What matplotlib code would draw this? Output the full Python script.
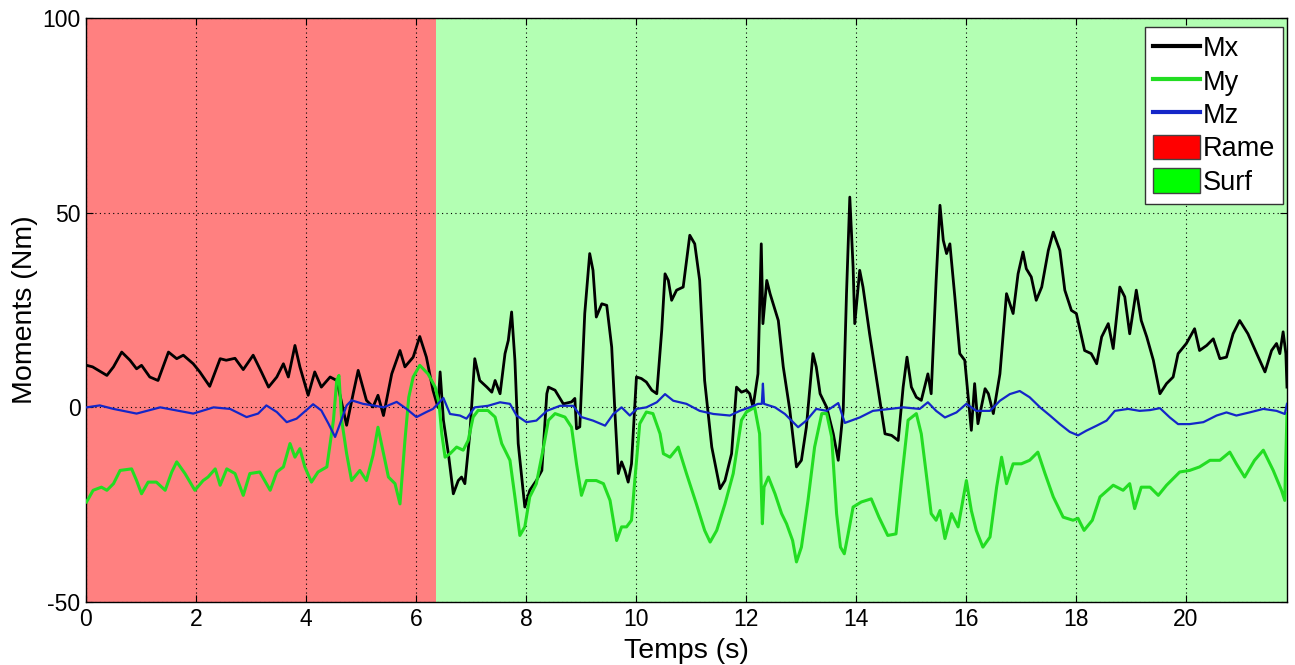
import matplotlib
matplotlib.use("Agg")
import matplotlib.pyplot as plt
from matplotlib.lines import Line2D
from matplotlib.patches import Patch

plt.rcParams['font.family'] = ['Liberation Sans', 'DejaVu Sans']
plt.rcParams['axes.unicode_minus'] = False

# ---- data ----
mx_t = [0.01, 0.12, 0.38, 0.5, 0.65, 0.8, 0.92, 1.01, 1.16, 1.31, 1.5, 1.65, 1.77, 1.95, 2.07, 2.25,
        2.44, 2.55, 2.71, 2.86, 3.04, 3.19, 3.32, 3.47, 3.59, 3.68, 3.8, 3.89, 4.04, 4.16, 4.28, 4.44,
        4.56, 4.74, 4.86, 4.95, 5.1, 5.22, 5.31, 5.41, 5.56, 5.71, 5.8, 5.95, 6.07, 6.19, 6.31, 6.4,
        6.44, 6.5, 6.59, 6.68, 6.77, 6.83, 6.89, 6.98, 7.07, 7.16, 7.29, 7.38, 7.44, 7.53, 7.62, 7.68,
        7.74, 7.8, 7.86, 7.98, 8.07, 8.19, 8.29, 8.38, 8.41, 8.53, 8.68, 8.83, 8.89, 8.92, 8.98, 9.07,
        9.16, 9.22, 9.28, 9.38, 9.47, 9.56, 9.62, 9.68, 9.74, 9.8, 9.86, 9.92, 10.01, 10.1, 10.19,
        10.29, 10.38, 10.47, 10.53, 10.59, 10.65, 10.74, 10.86, 10.98, 11.07, 11.16, 11.25, 11.38,
        11.53, 11.62, 11.74, 11.83, 11.92, 12.01, 12.07, 12.13, 12.22, 12.28, 12.31, 12.38, 12.44,
        12.59, 12.68, 12.8, 12.92, 13.01, 13.1, 13.22, 13.28, 13.35, 13.47, 13.59, 13.68, 13.77,
        13.83, 13.89, 13.95, 13.98, 14.07, 14.13, 14.25, 14.38, 14.53, 14.65, 14.77, 14.86, 14.93,
        15.01, 15.1, 15.19, 15.31, 15.37, 15.46, 15.53, 15.59, 15.65, 15.71, 15.8, 15.89, 15.98,
        16.07, 16.1, 16.16, 16.22, 16.35, 16.41, 16.5, 16.62, 16.74, 16.86, 16.95, 17.04, 17.1,
        17.19, 17.28, 17.38, 17.5, 17.59, 17.71, 17.8, 17.92, 18.01, 18.16, 18.28, 18.38, 18.47,
        18.59, 18.68, 18.8, 18.89, 18.98, 19.1, 19.19, 19.29, 19.41, 19.53, 19.65, 19.77, 19.86,
        20.01, 20.16, 20.25, 20.38, 20.5, 20.62, 20.74, 20.86, 20.98, 21.13, 21.29, 21.44, 21.56,
        21.65, 21.71, 21.77, 21.82, 21.84]
mx_v = [10.8, 10.4, 8.2, 10.4, 14.2, 12.1, 9.9, 10.8, 7.8, 6.9, 14.2, 12.5, 13.4, 11.2, 9.1, 5.4,
        12.5, 12.1, 12.6, 9.7, 13.4, 9.1, 5.2, 7.8, 11.2, 7.8, 15.9, 10.4, 3.1, 9.1, 5.2, 7.8,
        6.9, -4.6, 3.6, 9.5, 1.8, 0.1, 3.1, -2.1, 8.6, 14.6, 10.4, 12.9, 18.2, 12.9, 4.4, 0.0,
        9.1, -3.3, -11.9, -22.2, -18.8, -17.9, -19.6, -6.8, 12.5, 6.9, 5.2, 3.9, 6.9, 3.5, 13.8, 17.2,
        24.5, 12.1, -9.3, -25.6, -21.3, -18.8, -16.2, 3.5, 5.2, 4.4, 0.9, 1.4, 2.3, -5.5, -5.0, 24.1,
        39.5, 35.2, 23.2, 26.6, 26.2, 15.5, -1.6, -17.0, -14.0, -16.2, -19.2, -14.5, 7.8, 7.4, 6.5,
        4.4, 3.5, 19.8, 34.3, 32.6, 27.5, 30.1, 30.9, 44.2, 42.0, 32.6, 6.9, -10.2,
        -20.9, -18.8, -11.9, 5.2, 3.9, 4.4, 3.5, 0.0, 8.6, 42.0, 21.5, 32.6, 29.2,
        22.3, 10.4, -0.8, -15.3, -13.6, -5.1, 13.8, 10.4, 3.5, 0.0, -6.8, -13.6, -0.8,
        29.2, 54.0, 36.0, 21.5, 35.2, 30.9, 18.9, 6.9, -6.8, -7.2, -8.5, 5.2, 12.9,
        5.2, 2.6, 1.8, 8.6, 3.5, 32.6, 51.9, 42.9, 39.5, 42.0, 28.4, 13.8, 12.1,
        -1.6, -5.9, 6.1, -4.2, 4.8, 3.5, -1.6, 8.6, 29.2, 24.1, 34.3, 39.9, 35.6,
        33.5, 27.5, 30.9, 40.3, 45.0, 40.3, 30.1, 24.9, 24.1, 14.6, 13.8, 11.2, 18.1,
        21.5, 15.1, 30.9, 28.4, 18.9, 30.1, 22.3, 18.1, 12.1, 3.5, 6.1, 7.8, 13.8,
        16.4, 20.2, 14.6, 15.9, 17.6, 12.5, 12.9, 18.9, 22.3, 18.9, 13.8, 9.1, 14.6,
        16.4, 13.8, 19.4, 13.8, 5.2]

my_t = [0.01, 0.13, 0.28, 0.38, 0.5, 0.62, 0.83, 0.92, 1.01, 1.13, 1.28, 1.44, 1.56, 1.65, 1.8,
        1.98, 2.13, 2.22, 2.35, 2.44, 2.56, 2.71, 2.86, 2.98, 3.16, 3.35, 3.47, 3.59, 3.71, 3.8,
        3.89, 3.98, 4.1, 4.22, 4.38, 4.5, 4.56, 4.6, 4.65, 4.74, 4.83, 4.98, 5.1, 5.22, 5.31, 5.41,
        5.5, 5.62, 5.71, 5.8, 5.87, 5.95, 6.07, 6.22, 6.35, 6.42, 6.47, 6.53, 6.62, 6.74, 6.86,
        6.95, 7.04, 7.13, 7.31, 7.44, 7.56, 7.71, 7.8, 7.89, 7.98, 8.07, 8.19, 8.31, 8.41, 8.53,
        8.71, 8.83, 8.92, 9.01, 9.1, 9.28, 9.41, 9.53, 9.65, 9.74, 9.83, 9.92, 9.98, 10.07, 10.19,
        10.31, 10.44, 10.5, 10.62, 10.77, 10.92, 11.1, 11.25, 11.35, 11.47, 11.62, 11.77, 11.92,
        12.01, 12.16, 12.25, 12.3, 12.33, 12.41, 12.53, 12.65, 12.74, 12.85, 12.92, 13.01, 13.13,
        13.25, 13.38, 13.47, 13.56, 13.65, 13.72, 13.79, 13.86, 13.95, 14.1, 14.28, 14.42, 14.58,
        14.73, 14.83, 14.95, 15.1, 15.19, 15.28, 15.37, 15.46, 15.53, 15.62, 15.74, 15.86, 16.01,
        16.1, 16.19, 16.31, 16.44, 16.56, 16.65, 16.74, 16.86, 17.01, 17.16, 17.31, 17.44, 17.59,
        17.77, 17.95, 18.04, 18.15, 18.3, 18.44, 18.68, 18.86, 18.98, 19.07, 19.19, 19.35, 19.5,
        19.65, 19.89, 20.07, 20.25, 20.44, 20.62, 20.8, 20.92, 21.07, 21.25, 21.41, 21.59, 21.74,
        21.8, 21.84]
my_v = [-24.3, -21.3, -20.5, -21.3, -19.6, -16.2, -15.8, -18.8, -22.2, -19.2, -19.2, -21.3, -16.6,
        -14.0, -17.0, -21.3, -18.8, -17.9, -15.8, -20.0, -15.8, -17.0, -22.6, -17.0, -16.6, -21.3,
        -16.6, -15.3, -9.3, -12.8, -10.6, -15.3, -19.2, -16.6, -15.3, -3.3, 6.9, 8.2, -3.3, -11.9,
        -18.8, -16.2, -18.8, -12.3, -5.1, -11.9, -17.9, -19.6, -24.8, -8.5, 2.6, 7.8, 10.8, 8.6,
        5.2, 1.0, -6.8, -12.8, -11.9, -10.2, -11.0, -8.5, -2.5, -0.8, -0.8, -2.5, -9.3, -13.6,
        -23.0, -32.9, -30.7, -23.0, -19.6, -11.0, -3.3, -1.6, -2.5, -5.1, -14.5, -22.6, -18.8,
        -18.8, -19.6, -23.9, -34.2, -30.7, -30.7, -29.0, -18.8, -4.2, -1.2, -1.6, -6.8, -11.9,
        -12.8, -10.2, -17.0, -24.8, -31.6, -34.6, -31.6, -24.8, -17.0, -3.3, -1.2, 0.0, -6.8,
        -29.9, -20.5, -17.9, -22.2, -27.3, -29.9, -34.2, -39.7, -35.9, -23.9, -10.2, -1.6, -1.6,
        -7.6, -27.3, -35.9, -37.6, -32.5, -25.6, -24.3, -23.5, -28.2, -32.9, -32.5, -18.8, -3.3,
        -1.6, -6.8, -17.0, -27.3, -29.0, -26.5, -33.7, -27.3, -30.7, -18.8, -26.5, -31.6, -35.9,
        -33.3, -20.5, -12.8, -19.6, -14.5, -14.5, -13.6, -11.5, -17.0, -23.0, -28.2, -29.0, -28.5,
        -31.6, -29.0, -23.0, -20.0, -21.3, -19.6, -26.0, -20.5, -20.5, -22.6, -20.0, -16.6, -16.2,
        -15.3, -13.6, -13.6, -11.5, -14.5, -17.9, -13.6, -11.0, -16.2, -21.3, -23.9, -1.6]

mz_t = [0.01, 0.25, 0.5, 0.92, 1.35, 1.65, 1.95, 2.32, 2.62, 2.92, 3.13, 3.28, 3.47, 3.65, 3.83,
        4.13, 4.28, 4.41, 4.53, 4.62, 4.74, 4.83, 5.04, 5.22, 5.41, 5.65, 5.83, 6.01, 6.19, 6.31,
        6.5, 6.62, 6.8, 6.92, 7.07, 7.31, 7.53, 7.71, 7.83, 8.01, 8.19, 8.38, 8.62, 8.86, 9.01,
        9.22, 9.44, 9.59, 9.74, 9.89, 10.01, 10.19, 10.38, 10.53, 10.68, 10.92, 11.16, 11.41,
        11.71, 11.89, 12.07, 12.22, 12.29, 12.31, 12.33, 12.53, 12.71, 12.95, 13.1, 13.28, 13.47,
        13.68, 13.8, 14.07, 14.31, 14.62, 14.86, 15.16, 15.31, 15.46, 15.62, 15.83, 16.01, 16.19,
        16.44, 16.62, 16.8, 16.98, 17.16, 17.35, 17.53, 17.71, 17.89, 18.04, 18.19, 18.38, 18.56,
        18.71, 18.95, 19.16, 19.35, 19.53, 19.71, 19.86, 20.07, 20.32, 20.56, 20.74, 20.92, 21.16,
        21.41, 21.65, 21.8, 21.84]
mz_v = [0.0, 0.5, -0.4, -1.6, 0.0, -0.8, -1.6, 0.0, -0.4, -2.5, -1.6, 0.5, -1.2, -3.8, -2.9,
        0.8, -0.8, -4.2, -7.6, -4.2, 0.5, 1.8, 0.9, 0.5, 0.0, 1.4, -0.4, -2.5, -1.2, -0.4,
        2.4, -1.7, -2.1, -2.9, 0.0, 0.4, 1.3, 0.9, -2.1, -3.8, -3.4, -0.9, 0.4, 0.4, -2.5,
        -3.4, -4.7, -1.7, 0.0, -2.1, -0.4, 0.0, 1.3, 3.4, 1.7, 0.9, -0.9, -1.7,
        -2.1, -0.9, 0.0, 0.9, 0.9, 6.1, 0.9, 0.0, -1.7, -5.1, -3.4, -0.4, -0.9,
        1.1, -4.0, -2.6, -0.9, -0.4, 0.0, -0.4, 1.3, -0.9, -2.6, -1.3, 0.9, -0.9,
        -0.9, 1.7, 3.4, 4.2, 2.6, 0.0, -2.1, -4.3, -6.3, -7.2, -6.0, -4.7, -3.4,
        -0.9, -0.4, -0.9, -0.7, -0.2, -2.6, -4.3, -4.3, -3.8, -2.1, -1.3, -2.1, -1.3,
        -0.4, -0.9, -1.7, 0.9]

phase_names = ['Rame', 'Surf']
phase_bounds = [(0.0, 6.37), (6.37, 21.84)]

xticks = [0, 2, 4, 6, 8, 10, 12, 14, 16, 18, 20]
yticks = [-50, 0, 50, 100]

# ---- figure ----
fig = plt.figure(figsize=(12.95, 6.65), dpi=100)
ax = fig.add_axes([0.0664, 0.0947, 0.9274, 0.8782])

ax.axvspan(phase_bounds[0][0], phase_bounds[0][1], color=(1.0, 0.5, 0.5), lw=0, zorder=0)
ax.axvspan(phase_bounds[1][0], phase_bounds[1][1], color=(0.70, 1.0, 0.70), lw=0, zorder=0)

ax.plot(mx_t, mx_v, color='black', lw=2.0, zorder=3)
ax.plot(my_t, my_v, color='#22DD22', lw=2.2, zorder=3)
ax.plot(mz_t, mz_v, color='#1426C8', lw=1.6, zorder=4)

ax.set_xlim(0, 21.84)
ax.set_ylim(-50, 100)
ax.set_xticks(xticks)
ax.set_yticks(yticks)
ax.grid(True, color='black', linestyle=(0, (1, 3)), lw=0.8)
ax.set_axisbelow(False)
ax.tick_params(direction='in', top=True, right=True, length=5, labelsize=16.5, pad=4)
for s in ax.spines.values():
    s.set_linewidth(1.0)
ax.set_xlabel('Temps (s)', fontsize=20.5, labelpad=5)
ax.set_ylabel('Moments (Nm)', fontsize=20.5, labelpad=3)

handles = [Line2D([], [], color='black', lw=3),
           Line2D([], [], color='#22DD22', lw=3),
           Line2D([], [], color='#1426C8', lw=3),
           Patch(facecolor='#FF0000', edgecolor='#444444'),
           Patch(facecolor='#00FF00', edgecolor='#444444')]
labels = ['Mx', 'My', 'Mz'] + phase_names
leg = ax.legend(handles, labels, loc='upper right', bbox_to_anchor=(0.9968, 0.985),
                fontsize=19.5, fancybox=False, framealpha=1, edgecolor='#333333',
                handlelength=1.75, handleheight=1.0, handletextpad=0.08, labelspacing=0.22,
                borderpad=0.3, borderaxespad=0.0)
leg.get_frame().set_linewidth(1.0)

fig.savefig('out.png', dpi=100)
